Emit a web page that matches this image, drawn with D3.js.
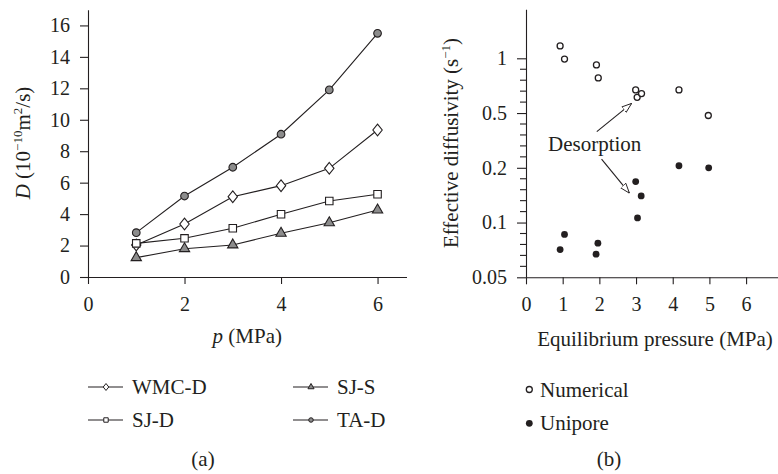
<!DOCTYPE html>
<html><head><meta charset="utf-8">
<script src="https://cdn.jsdelivr.net/npm/d3@7"></script>
<style>
body{margin:0;background:#fff}
svg{display:block;font-family:"Liberation Serif","Times New Roman",serif;fill:#231f20}
</style></head><body>
<svg id="fig" width="778" height="474" font-family="Liberation Serif, serif"></svg>
<script>
// ---- Panel (a): diffusion coefficient D against pressure p ----
const pressures = [1, 2, 3, 4, 5, 6];
const wmcD = [2.04, 3.37, 5.11, 5.81, 6.91, 9.35];
const sjD  = [2.14, 2.46, 3.10, 3.99, 4.83, 5.26];
const sjS  = [1.23, 1.80, 2.04, 2.78, 3.45, 4.26];
const taD  = [2.82, 5.15, 6.98, 9.08, 11.9, 15.5];
const seriesNames = ["WMC-D", "SJ-D", "SJ-S", "TA-D"];
const dTicks = [0, 2, 4, 6, 8, 10, 12, 14, 16];
const pTicks = [0, 2, 4, 6];

// ---- Panel (b): effective diffusivity against equilibrium pressure ----
const numericalP    = [0.93, 1.05, 1.92, 1.97, 2.99, 3.03, 3.15, 4.17, 4.97];
const numericalDiff = [1.17, 0.99, 0.92, 0.78, 0.67, 0.61, 0.64, 0.67, 0.48];
const uniporeP      = [0.93, 1.05, 1.91, 1.96, 2.99, 3.04, 3.14, 4.17, 4.98];
const uniporeDiff   = [0.071, 0.086, 0.067, 0.077, 0.168, 0.106, 0.14, 0.207, 0.2];
const eqTicks   = [0, 1, 2, 3, 4, 5, 6];
const diffTicks = [0.05, 0.1, 0.2, 0.5, 1];
const markerNames = ["Numerical", "Unipore"];

const ink = "#231f20";
const serif = '"Liberation Serif", serif';
const svg = d3.select("#fig");

function styleAxis(g) {
  g.attr("font-family", serif);
  g.selectAll("path.domain").attr("stroke", ink).attr("stroke-width", 1.1);
  g.selectAll(".tick line").attr("stroke", ink).attr("stroke-width", 1.1);
  g.selectAll(".tick text").attr("fill", ink)
    .style("font-family", serif).style("font-size", "20px");
}

// ================= Panel (a) =================
const xA = d3.scaleLinear().domain([0, 6.6]).range([88, 406.5]);
const yA = d3.scaleLinear().domain([0, 17]).range([277, 9.7]);

svg.append("g").attr("transform", `translate(0,${yA(0)})`)
  .call(d3.axisBottom(xA).tickValues(pTicks).tickFormat(d3.format("d"))
    .tickSize(7).tickSizeOuter(0).tickPadding(13))
  .call(styleAxis);
svg.append("g").attr("transform", `translate(${xA(0)},0)`)
  .call(d3.axisLeft(yA).tickValues(dTicks).tickFormat(d3.format("d"))
    .tickSize(8).tickSizeOuter(0).tickPadding(10))
  .call(styleAxis);

const symDiamond = {
  draw(ctx, size) {
    const w = Math.sqrt(size) * 0.5, h = w * 1.25;
    ctx.moveTo(0, -h); ctx.lineTo(w, 0); ctx.lineTo(0, h); ctx.lineTo(-w, 0); ctx.closePath();
  }
};
const series = [
  { name: seriesNames[0], values: wmcD, type: symDiamond,       size: 88, fill: "#fff" },
  { name: seriesNames[1], values: sjD,  type: d3.symbolSquare,   size: 56, fill: "#fff" },
  { name: seriesNames[2], values: sjS,  type: d3.symbolTriangle, size: 46, fill: "#8c8c8c" },
  { name: seriesNames[3], values: taD,  type: d3.symbolCircle,   size: 46, fill: "#8c8c8c" }
];

const line = d3.line().x((d, i) => xA(pressures[i])).y(d => yA(d));
series.forEach(s => {
  svg.append("path").datum(s.values).attr("d", line)
    .attr("fill", "none").attr("stroke", ink).attr("stroke-width", 1.1);
});
series.forEach(s => {
  svg.append("g").selectAll("path").data(s.values).join("path")
    .attr("transform", (d, i) => `translate(${xA(pressures[i])},${yA(d)})`)
    .attr("d", d3.symbol(s.type, s.size))
    .attr("fill", s.fill).attr("stroke", ink).attr("stroke-width", 1.1);
});

// y label: D (10^-10 m^2/s)
const yLabA = svg.append("text").attr("transform", "translate(30,143) rotate(-90)")
  .attr("text-anchor", "middle").attr("font-family", serif).style("font-size", "21px").attr("fill", ink);
yLabA.append("tspan").attr("font-style", "italic").text("D");
yLabA.append("tspan").text(" (10");
yLabA.append("tspan").attr("dy", -8).style("font-size", "13px").text("−10");
yLabA.append("tspan").attr("dy", 8).text("m");
yLabA.append("tspan").attr("dy", -8).style("font-size", "13px").text("2");
yLabA.append("tspan").attr("dy", 8).text("/s)");

// x label: p (MPa)
const xLabA = svg.append("text").attr("x", (xA.range()[0] + xA.range()[1]) / 2).attr("y", 343)
  .attr("text-anchor", "middle").attr("font-family", serif).style("font-size", "21px").attr("fill", ink);
xLabA.append("tspan").attr("font-style", "italic").text("p");
xLabA.append("tspan").text(" (MPa)");

// legend (a): two columns, two rows
const legPos = [[88, 387], [88, 420], [293, 387], [293, 420]];
series.forEach((s, k) => {
  const [lx, ly] = legPos[k];
  const g = svg.append("g").attr("transform", `translate(${lx},${ly})`);
  g.append("line").attr("x1", 0).attr("x2", 35).attr("stroke", ink).attr("stroke-width", 1.1);
  g.append("path").attr("transform", "translate(18,0)")
    .attr("d", d3.symbol(s.type, s.size * 0.35))
    .attr("fill", s.fill).attr("stroke", ink).attr("stroke-width", 1);
  g.append("text").attr("x", 44).attr("y", 7).attr("font-family", serif)
    .style("font-size", "21px").attr("fill", ink).text(s.name);
});
svg.append("text").attr("x", 203).attr("y", 466).attr("text-anchor", "middle")
  .attr("font-family", serif).style("font-size", "21px").attr("fill", ink).text("(a)");

// ================= Panel (b) =================
const xB = d3.scaleLinear().domain([0, 6.87]).range([526, 778]);
// evenly spaced 1-2-5 tick ladder, logarithmic between neighbouring ticks
const yB = d3.scaleLog()
  .domain([0.05, 0.1, 0.2, 0.5, 1, 1.86])
  .range([277.3, 222.55, 167.8, 113.05, 58.3, 9.3]);

svg.append("g").attr("transform", `translate(0,${yB(0.05)})`)
  .call(d3.axisBottom(xB).tickValues(eqTicks).tickFormat(d3.format("d"))
    .tickSize(7).tickSizeOuter(0).tickPadding(13))
  .call(styleAxis);
svg.append("g").attr("transform", `translate(${xB(0)},0)`)
  .call(d3.axisLeft(yB).tickValues(diffTicks).tickFormat(d => String(d))
    .tickSize(9).tickSizeOuter(0).tickPadding(10))
  .call(styleAxis);

// minor ticks: four per interval between labelled ticks
const minorY = [];
for (let i = 0; i < diffTicks.length - 1; i++) {
  const interp = d3.interpolateNumber(yB(diffTicks[i]), yB(diffTicks[i + 1]));
  for (let k = 1; k < 5; k++) minorY.push(interp(k / 5));
}
svg.append("g").selectAll("line").data(minorY).join("line")
  .attr("x1", xB(0) - 6).attr("x2", xB(0)).attr("y1", d => d).attr("y2", d => d)
  .attr("stroke", ink).attr("stroke-width", 1.1);

svg.append("g").selectAll("circle").data(numericalDiff).join("circle")
  .attr("cx", (d, i) => xB(numericalP[i])).attr("cy", d => yB(d)).attr("r", 3)
  .attr("fill", "#fff").attr("stroke", ink).attr("stroke-width", 1.3);
svg.append("g").selectAll("circle").data(uniporeDiff).join("circle")
  .attr("cx", (d, i) => xB(uniporeP[i])).attr("cy", d => yB(d)).attr("r", 3.4)
  .attr("fill", ink);

// annotation: Desorption with two open-headed arrows
const defs = svg.append("defs");
defs.append("marker").attr("id", "openArrow").attr("viewBox", "0 0 10 8")
  .attr("refX", 10).attr("refY", 4).attr("markerWidth", 10).attr("markerHeight", 8)
  .attr("markerUnits", "userSpaceOnUse").attr("orient", "auto")
  .append("path").attr("d", "M0,0.5 L10,4 L0,7.5 Z")
  .attr("fill", "#fff").attr("stroke", ink).attr("stroke-width", 0.9);

const arrows = [
  { from: [1.93, 0.366], to: [2.88, 0.565] },
  { from: [2.06, 0.231], to: [2.82, 0.145] }
];
arrows.forEach(a => {
  svg.append("line")
    .attr("x1", xB(a.from[0])).attr("y1", yB(a.from[1]))
    .attr("x2", xB(a.to[0])).attr("y2", yB(a.to[1]))
    .attr("stroke", ink).attr("stroke-width", 1.1).attr("marker-end", "url(#openArrow)");
});
svg.append("text").attr("x", xB(0.6)).attr("y", yB(0.298) + 7).attr("font-family", serif)
  .style("font-size", "21px").attr("fill", ink).text("Desorption");

// y label: Effective diffusivity (s^-1)
const yLabB = svg.append("text").attr("transform", "translate(458,143) rotate(-90)")
  .attr("text-anchor", "middle").attr("font-family", serif).style("font-size", "21px").attr("fill", ink);
yLabB.append("tspan").text("Effective diffusivity (s");
yLabB.append("tspan").attr("dy", -8).style("font-size", "13px").text("−1");
yLabB.append("tspan").attr("dy", 8).text(")");

svg.append("text").attr("x", 655).attr("y", 346).attr("text-anchor", "middle")
  .attr("font-family", serif).style("font-size", "21px").attr("fill", ink).text("Equilibrium pressure (MPa)");

// legend (b)
const legB = [
  { name: markerNames[0], fill: "#fff", r: 3, y: 389.5 },
  { name: markerNames[1], fill: ink, r: 3.4, y: 423.3 }
];
legB.forEach(m => {
  svg.append("circle").attr("cx", 529.3).attr("cy", m.y).attr("r", m.r)
    .attr("fill", m.fill).attr("stroke", ink).attr("stroke-width", m.fill === "#fff" ? 1.3 : 0);
  svg.append("text").attr("x", 540).attr("y", m.y + 7).attr("font-family", serif)
    .style("font-size", "21px").attr("fill", ink).text(m.name);
});
svg.append("text").attr("x", 609).attr("y", 466).attr("text-anchor", "middle")
  .attr("font-family", serif).style("font-size", "21px").attr("fill", ink).text("(b)");
</script>
</body></html>
